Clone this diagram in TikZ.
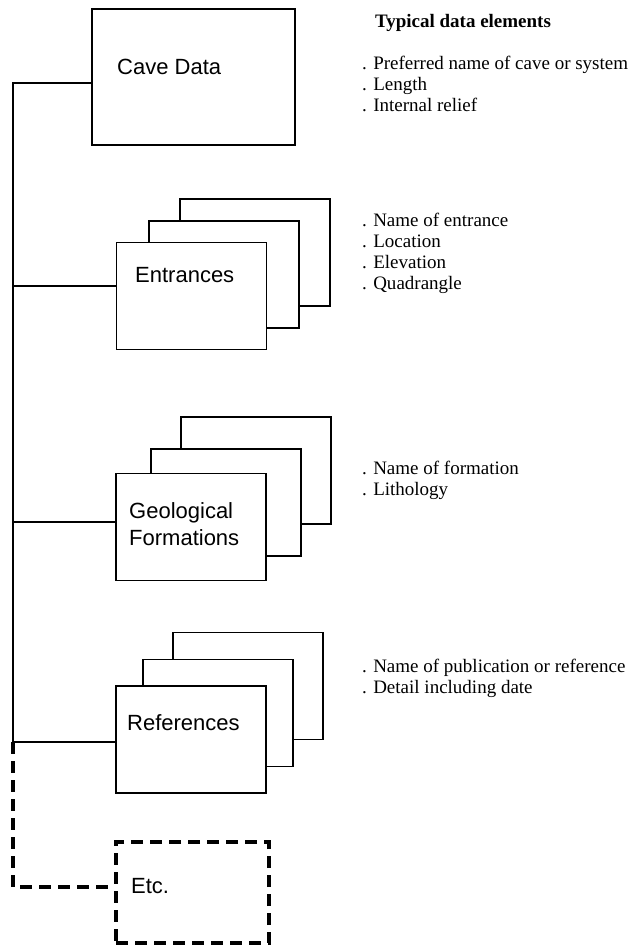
\documentclass[tikz,border=0pt]{standalone}
\usepackage{fontspec}
\setmainfont{Liberation Serif}
\newfontfamily\boxfont{Liberation Sans}
\usetikzlibrary{positioning}

\begin{document}
\begin{tikzpicture}[x=1pt, y=-1pt,
    card/.style={rectangle, draw=black, fill=white, line width=1.3pt, minimum width=150pt, minimum height=107pt, inner sep=0pt},
    cardlabel/.style={anchor=base west, font=\boxfont\fontsize{22}{27}\selectfont, align=left, inner sep=0pt},
    item/.style={anchor=base west, font=\fontsize{19}{21}\selectfont, align=left, inner sep=0pt},
    link/.style={line width=1.3pt},
    dashlink/.style={line width=3.4pt, dash pattern=on 12pt off 7pt}
]
\useasboundingbox (0,0) rectangle (631,947);

% Main record
\node[card, minimum width=203pt, minimum height=136pt] (cave) at (193.5,77) {};
\node[cardlabel] (cavetxt) at (117,75) {Cave Data};

% Entrances (stack)
\node[card] (entr3) at (255,252.5) {};
\node[card] (entr2) at (224,274.5) {};
\node[card] (entr) at (191.5,296) {};
\node[cardlabel] (entrtxt) at (135,282) {Entrances};

% Geological formations (stack)
\node[card] (geo3) at (256,470.5) {};
\node[card] (geo2) at (226,502.5) {};
\node[card] (geo) at (191,527) {};
\node[cardlabel] (geotxt) at (129,545) {Geological\\Formations};

% References (stack)
\node[card] (refs3) at (248,686) {};
\node[card] (refs2) at (218,713) {};
\node[card] (refs) at (191,739.5) {};
\node[cardlabel] (refstxt) at (127,730) {References};

% Further records
\node[card, dashlink, minimum width=153pt, minimum height=101pt] (etc) at (192.5,892.5) {};
\node[cardlabel] (etctxt) at (131,893) {Etc.};

% Trunk and branches
\coordinate (top) at (13,83);
\coordinate (entrjoin) at (13,286);
\coordinate (geojoin) at (13,522);
\coordinate (refsjoin) at (13,742);
\coordinate (etcjoin) at (13,887);
\draw[link] (top -| cave.west) -- (top) -- (refsjoin) -- (refsjoin -| refs.west);
\draw[link] (entrjoin) -- (entrjoin -| entr.west);
\draw[link] (geojoin) -- (geojoin -| geo.west);
\draw[dashlink] (refsjoin) -- (etcjoin) -- (etcjoin -| etc.west);

% Data elements - right column (base = last line)
\node[anchor=base, font=\bfseries\fontsize{19}{21}\selectfont, inner sep=0pt] (title) at (463,28) {Typical data elements};
\node[item] (caveitems) at (362,112) {. Preferred name of cave or system\\. Length\\. Internal relief};
\node[item] (entritems) at (362,289) {. Name of entrance\\. Location\\. Elevation\\. Quadrangle};
\node[item] (geoitems) at (362,495) {. Name of formation\\. Lithology};
\node[item] (refsitems) at (362,693) {. Name of publication or reference\\. Detail including date};

\end{tikzpicture}
\end{document}
